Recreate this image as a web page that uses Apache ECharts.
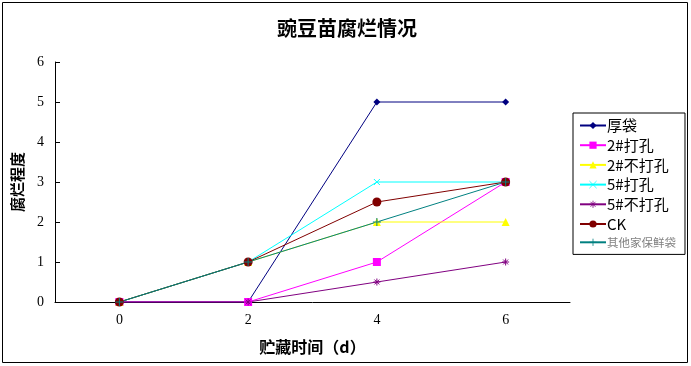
<!DOCTYPE html>
<html><head><meta charset="utf-8">
<script src="https://cdn.jsdelivr.net/npm/echarts@6/dist/echarts.min.js"></script>
<style>html,body{margin:0;padding:0;background:#fff}#c{width:691px;height:366px}</style>
</head><body><div id="c"></div>
<script>
var categories = ['0', '2', '4', '6'];
var seriesNames = ['厚袋', '2#打孔', '2#不打孔', '5#打孔', '5#不打孔', 'CK', '其他家保鲜袋'];
var houDai = [0, 0, 5, 5];
var k2Da = [0, 0, 1, 3];
var k2BuDa = [0, 1, 2, 2];
var k5Da = [0, 1, 3, 3];
var k5BuDa = [0, 0, 0.5, 1];
var ck = [0, 1, 2.5, 3];
var qiTa = [0, 1, 2, 3];
var yTicks = [0, 1, 2, 3, 4, 5, 6];

var values = [houDai, k2Da, k2BuDa, k5Da, k5BuDa, ck, qiTa];
var colors = ['#000080', '#FF00FF', '#FFFF00', '#00FFFF', '#800080', '#800000', '#008080'];
var symbols = ['diamond', 'rect', 'triangle',
  'path://M0,0L10,10M10,0L0,10',
  'path://M5,0L5,10M0,5L10,5M1.5,1.5L8.5,8.5M8.5,1.5L1.5,8.5',
  'circle',
  'path://M5,0L5,10M0,5L10,5'];
var sizes = [7, 8, 8, 6, 7, 9, 8];
var strokeOnly = [false, false, false, true, true, false, true];

var font = "'Liberation Serif','Noto Sans CJK SC',serif";
var cjk = "'Noto Sans CJK SC',sans-serif";

var series = seriesNames.map(function (n, i) {
  return {
    name: n, type: 'line', data: values[i],
    symbol: symbols[i], symbolSize: sizes[i],
    showAllSymbol: true,
    lineStyle: { color: colors[i], width: 1 },
    itemStyle: strokeOnly[i] ? { color: 'none', borderColor: colors[i], borderWidth: 1 } : { color: colors[i], borderWidth: 0 },
    emphasis: { disabled: true },
    animation: false
  };
});

var chart = echarts.init(document.getElementById('c'));
chart.setOption({
  animation: false,
  backgroundColor: '#fff',
  title: {
    text: '豌豆苗腐烂情况', left: 342, top: 13, textAlign: 'center',
    textStyle: { fontFamily: cjk, fontSize: 20, fontWeight: 'bold', color: '#000' }
  },
  graphic: [{ type: 'rect', shape: { x: 2.5, y: 2.5, width: 685, height: 360 }, style: { fill: 'none', stroke: '#000', lineWidth: 1 }, silent: true }],
  legend: {
    orient: 'vertical', left: 573, top: 113,
    borderColor: '#000', borderWidth: 1,
    padding: [5, 9, 6, 6],
    itemGap: 4.7, itemWidth: 26, itemHeight: 9,
    textStyle: { fontFamily: cjk, fontSize: 15, color: '#000', padding: [0, 0, 0, -4] },
    data: seriesNames.map(function (n, i) {
      var d = { name: n };
      if (i === 6) d.textStyle = { color: '#808080', fontSize: 11.5 };
      if (strokeOnly[i]) d.itemStyle = { color: 'none', borderColor: colors[i], borderWidth: 0.8 };
      return d;
    })
  },
  grid: { left: 55, right: 121, top: 62, bottom: 64, containLabel: false },
  xAxis: {
    type: 'category', data: categories, boundaryGap: true,
    name: '贮藏时间（d）', nameLocation: 'middle', nameGap: 37,
    nameTextStyle: { fontFamily: cjk, fontSize: 16, fontWeight: 'bold', color: '#000' },
    axisLine: { lineStyle: { color: '#000', width: 1 } },
    axisTick: { inside: true, length: 6, lineStyle: { color: '#000' } },
    axisLabel: { fontFamily: font, fontSize: 14, color: '#000', margin: 11 },
    splitLine: { show: false }
  },
  yAxis: {
    type: 'value', min: yTicks[0], max: yTicks[yTicks.length - 1], interval: 1,
    name: '腐烂程度', nameLocation: 'middle', nameGap: 30, nameRotate: 90,
    nameTextStyle: { fontFamily: cjk, fontSize: 15, fontWeight: 'bold', color: '#000' },
    axisLine: { show: true, lineStyle: { color: '#000', width: 1 } },
    axisTick: { show: true, inside: true, length: 5, lineStyle: { color: '#000' } },
    axisLabel: { fontFamily: font, fontSize: 14, color: '#000', margin: 11 },
    splitLine: { show: false }
  },
  series: series
});
</script>
</body></html>
